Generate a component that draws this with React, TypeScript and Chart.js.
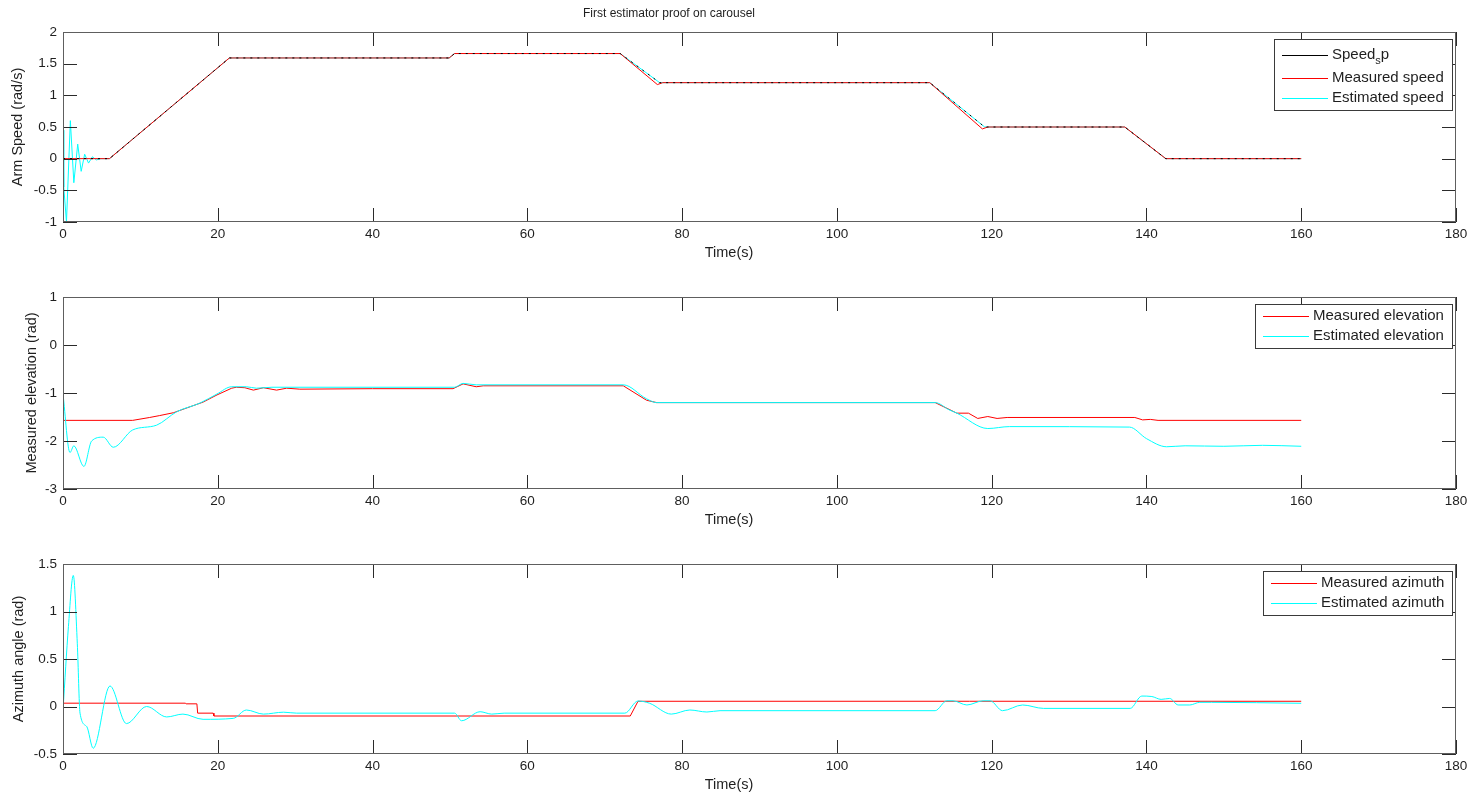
import React, { useEffect, useRef } from "react";
import { Chart, registerables } from "chart.js";

Chart.register(...registerables);

const FONT = "'Liberation Sans', Arial, Helvetica, sans-serif";
const TEXT = "#1f1f1f";

// ---------- Panel 1: arm speed ----------
const speedSpT = [0, 6, 21.5, 49.9, 50.6, 72, 77.1, 112, 119.1, 137.2, 142.5, 160];
const speedSpV = [0, 0, 1.59, 1.59, 1.66, 1.66, 1.2, 1.2, 0.5, 0.5, 0, 0];
const measSpeedT = [0, 6, 21.5, 49.9, 50.6, 72, 76.8, 77.5, 112, 118.8, 119.5, 137.2, 142.5, 160];
const measSpeedV = [0, 0, 1.59, 1.59, 1.66, 1.66, 1.17, 1.2, 1.2, 0.47, 0.5, 0.5, 0, 0];
const estSpeedT = [0, 0.1, 0.45, 0.95, 1.4, 1.9, 2.35, 2.8, 3.3, 3.8, 4.3, 4.9, 6, 21.5, 49.9, 50.6, 72, 77.1, 112, 119.1, 137.2, 142.5, 160];
const estSpeedV = [0.45, -0.45, -1.0, 0.6, -0.38, 0.23, -0.2, 0.07, -0.07, 0.03, -0.02, 0, 0, 1.59, 1.59, 1.66, 1.66, 1.2, 1.2, 0.5, 0.5, 0, 0];

// ---------- Panel 2: elevation ----------
const measElevT = [0, 9, 11.2, 12.5, 14.3, 15.5, 18.1, 19.9, 21.8, 22.4, 23.5, 24.6, 25.9, 27.6, 28.9, 30.6, 40, 50.4, 51.7, 53.4, 54.3, 72.4, 75.4, 76.7, 112.7, 115.5, 117, 118.2, 119.5, 120.7, 122, 138.5, 139.5, 140.5, 141.5, 160];
const measElevV = [-1.57, -1.57, -1.51, -1.47, -1.41, -1.34, -1.19, -1.04, -0.9, -0.88, -0.89, -0.94, -0.89, -0.94, -0.9, -0.92, -0.91, -0.91, -0.81, -0.87, -0.85, -0.85, -1.15, -1.2, -1.2, -1.42, -1.42, -1.53, -1.49, -1.53, -1.51, -1.51, -1.56, -1.55, -1.57, -1.57];
const estElevT = [0, 0.9, 1.4, 2.7, 3.7, 5.2, 6.5, 9, 12.1, 14.7, 17.7, 19.9, 21.8, 23.7, 25, 27, 50.6, 51.7, 53.4, 72.4, 75.4, 76.7, 112.7, 114.5, 115.5, 119.5, 122.3, 137.8, 140, 142.6, 145, 150, 155, 160];
const estElevV = [-1.02, -2.24, -2.1, -2.53, -2.0, -1.92, -2.13, -1.77, -1.67, -1.39, -1.21, -1.02, -0.87, -0.87, -0.9, -0.88, -0.88, -0.8, -0.83, -0.83, -1.12, -1.2, -1.2, -1.35, -1.42, -1.74, -1.7, -1.71, -1.95, -2.12, -2.1, -2.11, -2.09, -2.11];

// ---------- Panel 3: azimuth ----------
const measAzT = [0, 15.8, 15.9, 17.3, 17.4, 19.4, 19.5, 73.3, 74.3, 160];
const measAzV = [0.035, 0.035, 0.028, 0.028, -0.07, -0.07, -0.1, -0.1, 0.055, 0.055];
const estAzT = [0, 0.7, 1.33, 1.85, 2.2, 3.06, 3.9, 6.07, 8.2, 10.8, 13.4, 15.5, 18.1, 22, 23.7, 25.9, 28.5, 30.2, 50.6, 51.5, 53.9, 55.4, 57, 72.6, 74.3, 75.8, 78.6, 81, 83.2, 84.9, 112.7, 114.2, 115, 116.8, 118.9, 119.8, 121.4, 124, 126.7, 137.9, 139.4, 140.7, 141.9, 143, 144.1, 145.6, 146.9, 148.4, 160];
const estAzV = [-0.04, 0.84, 1.38, 0.66, -0.07, -0.21, -0.44, 0.216, -0.18, 0.0, -0.11, -0.08, -0.135, -0.125, -0.037, -0.08, -0.06, -0.07, -0.07, -0.15, -0.055, -0.08, -0.07, -0.07, 0.058, 0.034, -0.08, -0.037, -0.058, -0.044, -0.044, 0.06, 0.06, 0.016, 0.06, 0.06, -0.044, 0.016, -0.02, -0.02, 0.11, 0.105, 0.075, 0.085, 0.016, 0.016, 0.044, 0.044, 0.034];

// ---------- labels ----------
const TITLE = "First estimator proof on carousel";
const X_LABEL = "Time(s)";
const Y_LABELS = ["Arm Speed (rad/s)", "Measured elevation (rad)", "Azimuth angle (rad)"];
const LEGEND_1 = ["Speed_sp", "Measured speed", "Estimated speed"];
const LEGEND_2 = ["Measured elevation", "Estimated elevation"];
const LEGEND_3 = ["Measured azimuth", "Estimated azimuth"];
const X_MIN = 0, X_MAX = 180, X_STEP = 20;

type SeriesDef = { label: string; t: number[]; v: number[]; color: string; smooth?: boolean; dash?: number[]; order: number };
type PanelDef = {
  top: number; height: number; padTop: number; xAxisH: number;
  yMin: number; yMax: number; yStep: number; yLabel: string; yLabelX: number;
  title?: string; series: SeriesDef[]; legendRows: number[]; legendH: number;
};

const RED = "#ff0000", CYAN = "#00ffff", BLACK = "#000000";

const PANELS: PanelDef[] = [
  {
    top: 0, height: 270, padTop: 32, xAxisH: 48, yMin: -1, yMax: 2, yStep: 0.5,
    yLabel: Y_LABELS[0], yLabelX: 18, title: TITLE,
    series: [
      { label: LEGEND_1[0], t: speedSpT, v: speedSpV, color: BLACK, dash: [2, 5], order: 1 },
      { label: LEGEND_1[1], t: measSpeedT, v: measSpeedV, color: RED, order: 2 },
      { label: LEGEND_1[2], t: estSpeedT, v: estSpeedV, color: CYAN, order: 3 },
    ],
    legendRows: [16, 39, 59], legendH: 71,
  },
  {
    top: 270, height: 268, padTop: 27, xAxisH: 49, yMin: -3, yMax: 1, yStep: 1,
    yLabel: Y_LABELS[1], yLabelX: 32,
    series: [
      { label: LEGEND_2[0], t: measElevT, v: measElevV, color: RED, order: 2 },
      { label: LEGEND_2[1], t: estElevT, v: estElevV, color: CYAN, smooth: true, order: 1 },
    ],
    legendRows: [12, 32], legendH: 44,
  },
  {
    top: 538, height: 258, padTop: 26, xAxisH: 42, yMin: -0.5, yMax: 1.5, yStep: 0.5,
    yLabel: Y_LABELS[2], yLabelX: 19,
    series: [
      { label: LEGEND_3[0], t: measAzT, v: measAzV, color: RED, order: 2 },
      { label: LEGEND_3[1], t: estAzT, v: estAzV, color: CYAN, smooth: true, order: 1 },
    ],
    legendRows: [12, 32], legendH: 44,
  },
];

function drawLegendLabel(ctx: CanvasRenderingContext2D, label: string, x: number, y: number, draw: boolean): number {
  const big = `15px ${FONT}`;
  const small = `11px ${FONT}`;
  const idx = label.indexOf("_");
  if (idx < 0) {
    ctx.font = big;
    if (draw) ctx.fillText(label, x, y);
    return ctx.measureText(label).width;
  }
  const a = label.slice(0, idx);
  const s = label.slice(idx + 1, idx + 2);
  const b = label.slice(idx + 2);
  ctx.font = big;
  const wa = ctx.measureText(a).width;
  if (draw) ctx.fillText(a, x, y);
  ctx.font = small;
  const ws = ctx.measureText(s).width;
  if (draw) ctx.fillText(s, x + wa, y + 6);
  ctx.font = big;
  const wb = ctx.measureText(b).width;
  if (draw) ctx.fillText(b, x + wa + ws, y);
  return wa + ws + wb;
}

function makePlugin(def: PanelDef) {
  return {
    id: "matlabFrame",
    afterDatasetsDraw(chart: any) {
      const ctx: CanvasRenderingContext2D = chart.ctx;
      const { left, right, top, bottom } = chart.chartArea;
      const xs = chart.scales.x;
      const ys = chart.scales.y;
      ctx.save();
      ctx.setLineDash([]);
      ctx.lineWidth = 1;
      // ticks
      ctx.strokeStyle = "#2b2b2b";
      ctx.beginPath();
      xs.ticks.forEach((tk: any) => {
        const px = Math.round(xs.getPixelForValue(tk.value)) + 0.5;
        ctx.moveTo(px, bottom);
        ctx.lineTo(px, bottom - 14);
        ctx.moveTo(px, top);
        ctx.lineTo(px, top + 14);
      });
      ys.ticks.forEach((tk: any) => {
        const py = Math.round(ys.getPixelForValue(tk.value)) + 0.5;
        ctx.moveTo(left, py);
        ctx.lineTo(left + 14, py);
        ctx.moveTo(right, py);
        ctx.lineTo(right - 14, py);
      });
      ctx.stroke();
      // frame
      ctx.strokeStyle = "#5e5e5e";
      ctx.strokeRect(Math.round(left) + 0.5, Math.round(top) + 0.5, Math.round(right - left) - 1, Math.round(bottom - top) - 1);

      // legend
      const widths = def.series.map((s) => drawLegendLabel(ctx, s.label, 0, 0, false));
      const maxW = Math.max(...widths);
      const boxR = Math.round(right) - 4;
      const boxW = Math.round(maxW + 66);
      const boxL = boxR - boxW;
      const boxT = Math.round(top) + 7;
      ctx.fillStyle = "#ffffff";
      ctx.fillRect(boxL, boxT, boxW, def.legendH);
      ctx.strokeStyle = "#3a3a3a";
      ctx.strokeRect(boxL + 0.5, boxT + 0.5, boxW, def.legendH);
      def.series.forEach((s, i) => {
        const y = boxT + def.legendRows[i];
        ctx.strokeStyle = s.color;
        ctx.lineWidth = 1;
        ctx.beginPath();
        ctx.moveTo(boxL + 8, Math.round(y) + 0.5);
        ctx.lineTo(boxL + 54, Math.round(y) + 0.5);
        ctx.stroke();
        ctx.fillStyle = TEXT;
        ctx.textBaseline = "middle";
        ctx.textAlign = "left";
        drawLegendLabel(ctx, s.label, boxL + 58, y, true);
      });
      ctx.restore();
    },
    afterDraw(chart: any) {
      const ctx: CanvasRenderingContext2D = chart.ctx;
      const { top, bottom } = chart.chartArea;
      ctx.save();
      ctx.fillStyle = TEXT;
      ctx.textAlign = "center";
      ctx.textBaseline = "middle";
      ctx.font = `14.5px ${FONT}`;
      ctx.fillText(X_LABEL, 729, bottom + 31);
      ctx.save();
      ctx.translate(def.yLabelX, (top + bottom) / 2);
      ctx.rotate(-Math.PI / 2);
      ctx.fillText(def.yLabel, 0, 0);
      ctx.restore();
      if (def.title) {
        ctx.font = `12px ${FONT}`;
        ctx.fillText(def.title, 669, 14);
      }
      ctx.restore();
    },
  };
}

function Panel({ def }: { def: PanelDef }) {
  const ref = useRef<HTMLCanvasElement>(null);
  useEffect(() => {
    const canvas = ref.current!;
    const tickFont = { family: FONT, size: 13.5 };
    const chart = new Chart(canvas, {
      type: "line",
      data: {
        datasets: def.series.map((s) => ({
          label: s.label,
          data: s.t.map((t, i) => ({ x: t, y: s.v[i] })),
          borderColor: s.color,
          backgroundColor: s.color,
          borderWidth: 1,
          borderDash: s.dash || [],
          pointRadius: 0,
          fill: false,
          tension: 0,
          cubicInterpolationMode: s.smooth ? "monotone" : "default",
          order: s.order,
        })),
      },
      options: {
        animation: false,
        responsive: false,
        events: [],
        layout: { padding: { top: def.padTop, right: 21, left: 0, bottom: 0 } },
        plugins: { legend: { display: false }, tooltip: { enabled: false }, title: { display: false } },
        scales: {
          x: {
            type: "linear",
            min: X_MIN,
            max: X_MAX,
            ticks: {
              stepSize: X_STEP,
              font: tickFont,
              color: TEXT,
              padding: 4,
              maxRotation: 0,
              autoSkip: false,
              callback: (v: any) => String(v),
            },
            grid: { display: false, drawTicks: false },
            border: { display: false },
            afterFit: (s: any) => {
              s.height = def.xAxisH;
            },
          },
          y: {
            type: "linear",
            min: def.yMin,
            max: def.yMax,
            ticks: {
              stepSize: def.yStep,
              font: tickFont,
              color: TEXT,
              padding: 6,
              autoSkip: false,
              callback: (v: any) => String(Math.round(Number(v) * 100) / 100),
            },
            grid: { display: false, drawTicks: false },
            border: { display: false },
            afterFit: (s: any) => {
              s.width = 63;
            },
          },
        },
      } as any,
      plugins: [makePlugin(def) as any],
    });
    return () => chart.destroy();
  }, [def]);
  return (
    <canvas
      ref={ref}
      width={1477}
      height={def.height}
      style={{ position: "absolute", left: 0, top: def.top, width: 1477, height: def.height, display: "block" }}
    />
  );
}

export default function App() {
  return (
    <div style={{ position: "fixed", left: 0, top: 0, width: 1477, height: 796, background: "#ffffff", overflow: "hidden" }}>
      {PANELS.map((p, i) => (
        <Panel key={i} def={p} />
      ))}
    </div>
  );
}
